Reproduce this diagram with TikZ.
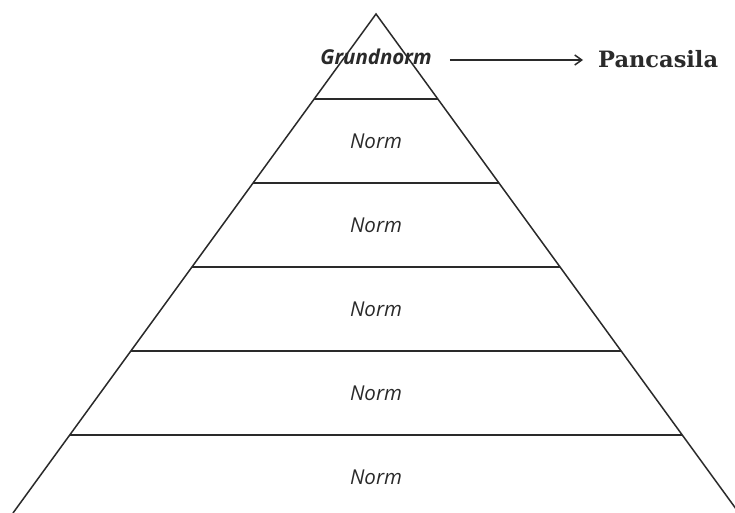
\documentclass[tikz,border=0pt]{standalone}
\usepackage{fontspec}
\newfontfamily\osans{Open Sans}
\newfontfamily\dserif{DejaVu Serif}
\usetikzlibrary{arrows.meta}
\definecolor{ink}{HTML}{2A2A2A}
\tikzset{
  edge/.style={draw=ink, line width=1.5pt},
  normlabel/.style={font=\osans\itshape\fontsize{20.5}{22}\selectfont, text=ink, inner sep=0pt},
  toplabel/.style={font=\osans\bfseries\itshape\fontsize{20.5}{22}\selectfont, text=ink, inner sep=0pt},
  namelabel/.style={font=\dserif\bfseries\fontsize{22.5}{24}\selectfont, text=ink, inner sep=0pt, anchor=west},
}
\begin{document}
\begin{tikzpicture}[x=1pt,y=-1pt]
\useasboundingbox (0,0) rectangle (735,513);
\clip (0,0) rectangle (735,513);
\fill[white] (0,0) rectangle (735,513);
% triangle sides
\coordinate (apex) at (376,14);
\coordinate (bl) at (13,513);
\coordinate (br) at (739,513);
\draw[edge, line join=miter] (bl) -- (apex) -- (br);
% horizontal dividers
\foreach \y [count=\i] in {99,183,267,351,435}{
  \pgfmathsetmacro{\dx}{0.7275*(\y-14)}
  \coordinate (L\i) at ({376-\dx},\y);
  \coordinate (R\i) at ({376+\dx},\y);
  \draw[edge] (L\i) -- (R\i);
}
% labels
\node[toplabel] (grund) at (376,57) {Grundnorm};
\node[normlabel] (n1) at (376,141) {Norm};
\node[normlabel] (n2) at (376,225) {Norm};
\node[normlabel] (n3) at (376,309) {Norm};
\node[normlabel] (n4) at (376,393) {Norm};
\node[normlabel] (n5) at (376,477) {Norm};
\node[namelabel] (panca) at (598,59) {Pancasila};
\draw[draw=ink, line width=1.5pt, -{Straight Barb[length=7pt,width=10pt]}, shorten <=18pt, shorten >=15pt] (grund.east |- 0,60) -- (panca.west |- 0,60);
\end{tikzpicture}
\end{document}
